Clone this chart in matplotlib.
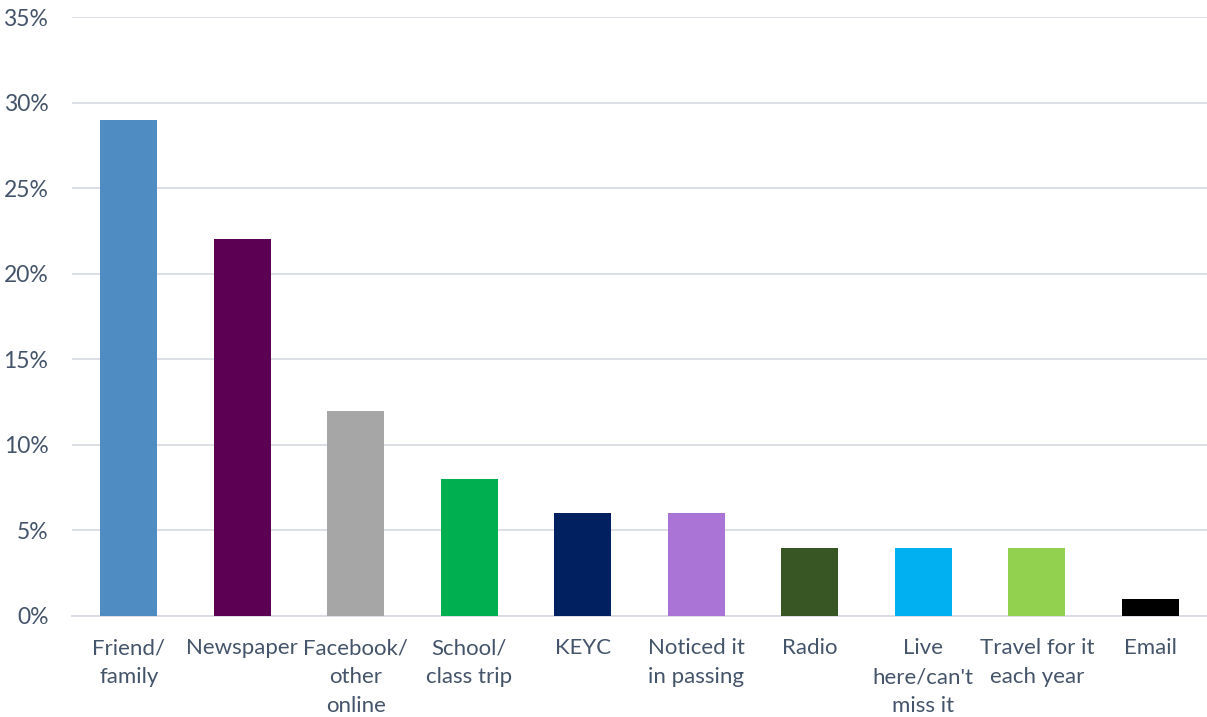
import matplotlib
matplotlib.use("Agg")
import matplotlib.pyplot as plt
from matplotlib.ticker import FuncFormatter, MultipleLocator

matplotlib.rcParams["font.family"] = ["Lato", "DejaVu Sans"]

categories = [
    "Friend/\nfamily", "Newspaper", "Facebook/\nother\nonline", "School/\nclass trip",
    "KEYC", "Noticed it\nin passing", "Radio", "Live\nhere/can't\nmiss it",
    "Travel for it\neach year", "Email",
]
values = [29, 22, 12, 8, 6, 6, 4, 4, 4, 1]
colors = [
    "#4E8CC2", "#5C0053", "#A6A6A6", "#00B050", "#002060",
    "#A974D6", "#375623", "#00B0F0", "#92D050", "#000000",
]

TEXT = "#44546A"
GRID = "#D9DCE3"

fig = plt.figure(figsize=(12.07, 7.17), dpi=100)
ax = fig.add_axes([72 / 1207, 1 - 616 / 717, 1 - 72 / 1207, (616 - 17) / 717])

x = range(len(categories))
ax.bar(x, values, width=0.5, color=colors, zorder=3)

ax.set_xlim(-0.5, len(categories) - 0.5)
ax.set_ylim(0, 35)
ax.yaxis.set_major_locator(MultipleLocator(5))
ax.yaxis.set_major_formatter(FuncFormatter(lambda v, _: f"{v:.0f}%"))
ax.grid(axis="y", color=GRID, linewidth=1.3, zorder=0)

ax.set_xticks(list(x))
ax.set_xticklabels(categories, linespacing=1.55)
ax.tick_params(axis="both", length=0, labelsize=16, colors=TEXT)
ax.tick_params(axis="y", pad=17, labelsize=16.5)
ax.tick_params(axis="x", pad=16)
for lbl in ax.get_xticklabels():
    lbl.set_verticalalignment("top")

for side in ("top", "right", "left"):
    ax.spines[side].set_visible(False)
ax.spines["bottom"].set_color(GRID)
ax.spines["bottom"].set_linewidth(1.3)

fig.savefig("out.png", dpi=100)
